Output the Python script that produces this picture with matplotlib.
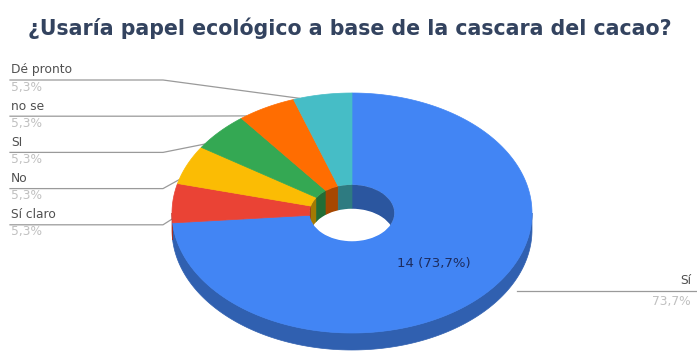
import numpy as np
import matplotlib
matplotlib.use('Agg')
from matplotlib import pyplot as plt
from matplotlib.patches import Polygon, Ellipse
from matplotlib.colors import to_rgb

# respuestas de la encuesta
labels = ['Sí', 'Sí claro', 'No', 'SI', 'no se', 'Dé pronto']
counts = [14, 1, 1, 1, 1, 1]
colors = ['#4285f4', '#ea4335', '#fbbc04', '#34a853', '#ff6d01', '#46bdc6']
title = '¿Usaría papel ecológico a base de la cascara del cacao?'

plt.rcParams['font.family'] = ['DejaVu Sans']

# geometria de la dona 3D (en pixeles)
cx, cy = 352, 213
rx, ry = 180, 120
hole = 0.235
depth = 17
depth_in = 24

def darker(c, f=0.72):
    r, g, b = to_rgb(c)
    return (r * f, g * f, b * f)

def rim(a, sx, sy, dy=0.0):
    a = np.radians(a)
    return cx + sx * np.sin(a), cy - sy * np.cos(a) + dy

def arc(a0, a1, sx, sy, dy=0.0):
    t = np.linspace(a0, a1, max(3, int(abs(a1 - a0)) + 3))
    x, y = rim(t, sx, sy, dy)
    return np.column_stack([x, y])

def overlap(a0, a1, b0, b1):
    lo, hi = max(a0, b0), min(a1, b1)
    return (lo, hi) if hi > lo else None

fig = plt.figure(figsize=(6.97, 3.56), dpi=100)
ax = fig.add_axes([0, 0, 1, 1])
ax.set_xlim(0, 697)
ax.set_ylim(356, 0)
ax.axis('off')

total = sum(counts)
fracs = np.array(counts) / total
ends = np.cumsum(fracs) * 360
starts = ends - fracs * 360

irx, iry = rx * hole, ry * hole
hole_clip = Ellipse((cx, cy), 2 * irx, 2 * iry, transform=ax.transData)

for a0, a1, c in zip(starts, ends, colors):
    # pared exterior (mitad frontal)
    seg = overlap(a0, a1, 90, 270)
    if seg:
        top = arc(seg[0], seg[1], rx, ry)
        bot = arc(seg[1], seg[0], rx, ry, depth)
        ax.add_patch(Polygon(np.vstack([top, bot]), closed=True,
                             fc=darker(c), ec=darker(c), lw=0.5, zorder=1))
    # cara superior
    outer = arc(a0, a1, rx, ry)
    inner = arc(a1, a0, irx, iry)
    ax.add_patch(Polygon(np.vstack([outer, inner]), closed=True,
                         fc=c, ec=c, lw=0.5, zorder=2))
    # pared interior (mitad trasera del agujero)
    for b0, b1 in [(-90, 90), (270, 450)]:
        seg = overlap(a0, a1, b0, b1)
        if seg:
            top = arc(seg[0], seg[1], irx, iry)
            bot = arc(seg[1], seg[0], irx, iry, depth_in)
            p = Polygon(np.vstack([top, bot]), closed=True,
                        fc=darker(c, 0.65), ec=darker(c, 0.65), lw=0.5, zorder=3)
            ax.add_patch(p)
            p.set_clip_path(hole_clip)

# fondo visto a traves del agujero
floor = Ellipse((cx, cy + depth_in), 2 * irx, 2 * iry, fc='white', ec='none', zorder=4)
ax.add_patch(floor)
floor.set_clip_path(hole_clip)

def pct(f):
    return ('%.1f%%' % (f * 100)).replace('.', ',')

# valor dentro de la porcion mayor
mid = (starts[0] + ends[0]) / 2
lx, ly = rim(mid, rx * (1 + hole) / 2, ry * (1 + hole) / 2)
ax.text(lx, ly, '%d (%s)' % (counts[0], pct(fracs[0])), ha='center', va='center',
        fontsize=9.5, color='#1d2c5e', zorder=5)

# etiquetas a la izquierda con lineas guia
line_c = '#9a9a9a'
for k, i in enumerate(range(len(labels) - 1, 0, -1)):
    ty = 70 + k * 36.2
    ax.text(11, ty, labels[i], ha='left', va='center', fontsize=8.8, color='#505050')
    ax.text(11, ty + 17, pct(fracs[i]), ha='left', va='center', fontsize=8.8, color='#c0c0c0')
    ay = ty + 10
    px, py = rim(starts[i] + 0.1 * (ends[i] - starts[i]), rx, ry)
    knee = min(163, px)
    ax.plot([10, knee, px], [ay, ay, py], color=line_c, lw=0.9, zorder=0)

# etiqueta de la porcion mayor a la derecha
ry_line = 291
u = (ry_line - depth - cy) / ry
sx = cx + rx * np.sqrt(1 - u ** 2) + 10
ax.plot([sx, 697], [ry_line, ry_line], color=line_c, lw=0.9, zorder=0)
ax.text(691, ry_line - 10, labels[0], ha='right', va='center', fontsize=8.8, color='#505050')
ax.text(691, ry_line + 11, pct(fracs[0]), ha='right', va='center', fontsize=8.8, color='#c0c0c0')

ax.text(350, 28, title, ha='center', va='center', fontsize=14.8,
        fontweight='bold', color='#33435f')

fig.savefig('out.png', dpi=100)
